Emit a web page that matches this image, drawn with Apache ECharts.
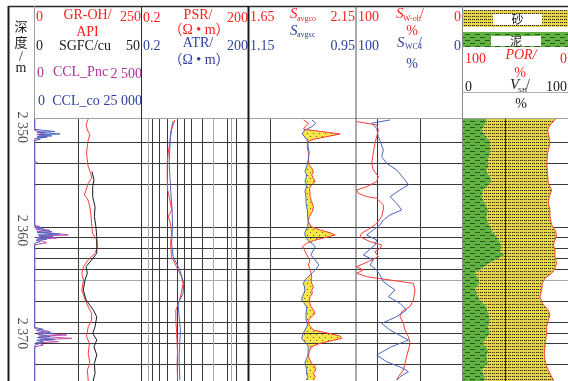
<!DOCTYPE html>
<html><head><meta charset="utf-8">
<script src="https://cdn.jsdelivr.net/npm/echarts/dist/echarts.min.js"></script>
<style>html,body{margin:0;padding:0;background:#fff}#c{width:568px;height:381px}</style>
</head><body><div id="c"></div>
<script>
// ---------------- DATA ----------------
const depthRange = [2349.2, 2374.6];
const depthTicks = [2350, 2360, 2370];
const depthTickLabels = ['2 350', '2 360', '2 370'];
const gridDepths = [2351.43, 2353.43, 2355.47, 2359.68, 2360.65, 2361.68, 2362.69, 2363.76, 2366.8, 2368.86, 2369.93, 2370.9, 2373.0];
const greyGridDepths = [2364.76];

// scales
const grScale = [0, 250], sgfcScale = [0, 50], cclPncScale = [0, 2500], cclCoScale = [0, 25000];
const resScale = [0.2, 200];
const savgcoScale = [1.65, 2.15], savgscScale = [0.95, 1.15];
const swScale = [0, 100], vshScale = [0, 100], porScale = [0, 100];

// track 1
const grDepth = [2349.2, 2349.29, 2349.78, 2350.26, 2350.74, 2351.23, 2351.88, 2352.52, 2353.17, 2353.82, 2354.46, 2354.95, 2355.43, 2356.08, 2356.57, 2356.89, 2357.53, 2358.34, 2359.31, 2360.28, 2360.93, 2361.58, 2362.22, 2362.87, 2363.52, 2364.16, 2364.81, 2365.78, 2366.75, 2367.40, 2368.04, 2368.69, 2369.34, 2370.31, 2370.95, 2371.92, 2372.89, 2373.54, 2374.51, 2374.6];
const grValue = [125, 125, 120, 123, 129, 125, 123, 121, 123, 125, 131, 133, 125, 120, 116, 123, 128, 131, 133, 135, 145, 147, 141, 125, 114, 110, 114, 110, 118, 125, 133, 133, 125, 121, 128, 125, 129, 123, 125, 125];
const sgfcDepth = [2354.3, 2354.46, 2355.11, 2355.76, 2356.73, 2357.70, 2358.67, 2359.64, 2360.61, 2361.58, 2362.22, 2362.87, 2363.52, 2364.16, 2364.81, 2365.78, 2366.75, 2367.72, 2368.37, 2369.34, 2369.98, 2370.63, 2371.28, 2372.08, 2372.89, 2373.86, 2374.51, 2374.6];
const sgfcValue = [26.8, 27.1, 27.7, 27.1, 27.1, 28.2, 27.9, 28.6, 29.0, 29.0, 29.0, 26.6, 24.0, 24.6, 23.5, 22.7, 24.0, 27.4, 29.0, 28.2, 27.1, 29.0, 27.7, 29.0, 27.9, 28.2, 27.4, 27.4];
const cclCoDepth = [2349.2, 2350.2, 2350.42, 2350.48, 2350.65, 2350.72, 2350.84, 2350.9, 2350.97, 2351.07, 2351.17, 2351.3, 2353.3, 2353.43, 2353.55, 2359.6, 2359.8, 2359.9, 2360.12, 2360.22, 2360.35, 2360.45, 2360.61, 2360.7, 2360.87, 2360.95, 2361.09, 2361.25, 2369.4, 2369.59, 2369.7, 2369.98, 2370.06, 2370.31, 2370.4, 2370.56, 2370.66, 2370.79, 2370.9, 2371.02, 2371.15, 2374.6];
const cclCoValue = [0, 0, 4700, 500, 5900, 800, 4000, 600, 2800, 300, 1300, 0, 0, 600, 0, 0, 2000, 300, 4000, 600, 5900, 800, 4300, 500, 2800, 300, 1300, 0, 0, 2000, 400, 4350, 700, 3600, 600, 4700, 500, 2000, 300, 850, 0, 0];
const cclPncDepth = [2349.2, 2350.3, 2350.55, 2350.7, 2350.9, 2351.1, 2359.5, 2359.65, 2359.75, 2360.0, 2360.1, 2360.44, 2360.55, 2360.75, 2360.85, 2361.2, 2361.4, 2369.5, 2369.82, 2369.95, 2370.14, 2370.25, 2370.47, 2370.6, 2370.79, 2370.9, 2371.11, 2371.3, 2374.6];
const cclPncValue = [0, 0, 250, 50, 300, 0, 0, 124, 0, 357, 50, 785, 100, 514, 60, 280, 0, 0, 357, 60, 748, 100, 865, 120, 551, 80, 200, 0, 0];

// track 2
const psrDepth = [2349.29, 2350.26, 2351.39, 2352.52, 2353.49, 2354.79, 2356.08, 2357.05, 2358.02, 2358.67, 2359.31, 2360.28, 2361.25, 2362.55, 2363.52, 2364.49, 2365.13, 2365.94, 2366.75, 2367.72, 2368.69, 2369.66, 2370.95, 2371.92, 2372.89, 2374.51];
const psrValue = [1.71, 1.38, 1.24, 1.11, 1.04, 1.04, 1.07, 1.24, 1.38, 1.11, 1.29, 1.38, 1.29, 1.38, 1.90, 2.62, 2.91, 2.62, 2.35, 1.82, 1.82, 1.90, 1.98, 2.03, 1.98, 2.03];
const atrDepth = [2349.4, 2349.61, 2350.58, 2351.88, 2353.49, 2354.79, 2356.40, 2358.02, 2359.64, 2361.25, 2362.55, 2363.84, 2365.13, 2366.10, 2367.07, 2368.36, 2369.66, 2370.95, 2372.24, 2374.51];
const atrValue = [1.53, 1.47, 1.29, 1.24, 1.18, 1.24, 1.32, 1.43, 1.47, 1.38, 1.53, 2.35, 3.05, 2.91, 2.11, 2.25, 2.46, 2.35, 2.25, 2.35];
const resGridDark = [0.4, 0.6, 1, 2, 3, 5, 10, 50, 90];
const resGridGrey = [0.3, 20, 65];

// track 3
const savgDepth = [2349.29, 2349.61, 2349.94, 2350.20, 2350.42, 2350.65, 2350.91, 2351.17, 2351.39, 2351.88,
  2352.52, 2353.17, 2353.65, 2353.98, 2354.30, 2354.62, 2354.95, 2355.27, 2355.59, 2355.92,
  2356.24, 2356.73, 2357.21, 2357.70, 2358.18, 2358.67, 2359.15, 2359.64, 2359.96, 2360.22,
  2360.44, 2360.70, 2360.99, 2361.25, 2361.58, 2361.90, 2362.38, 2362.87, 2363.35, 2363.84,
  2364.16, 2364.49, 2364.81, 2365.13, 2365.46, 2365.78, 2366.10, 2366.42, 2366.75, 2367.07,
  2367.39, 2367.72, 2368.04, 2368.36, 2368.69, 2369.17, 2369.66, 2369.98, 2370.24, 2370.47,
  2370.69, 2370.95, 2371.27, 2371.76, 2372.24, 2372.57, 2372.89, 2373.21, 2373.54, 2373.86,
  2374.18, 2374.51];
const savgcoValue = [1.906, 1.929, 1.913, 1.906, 1.991, 2.076, 2.014, 1.952, 1.926, 1.923,
  1.929, 1.929, 1.932, 1.944, 1.952, 1.944, 1.952, 1.960, 1.944, 1.933,
  1.936, 1.936, 1.944, 1.952, 1.947, 1.932, 1.929, 1.941, 1.983, 2.029,
  2.053, 2.006, 1.952, 1.921, 1.901, 1.910, 1.921, 1.936, 1.929, 1.936,
  1.941, 1.944, 1.941, 1.944, 1.952, 1.944, 1.947, 1.936, 1.933, 1.936,
  1.941, 1.952, 1.960, 1.944, 1.929, 1.932, 1.952, 2.022, 2.076, 2.084,
  2.037, 1.983, 1.944, 1.932, 1.929, 1.936, 1.944, 1.960, 1.963, 1.952,
  1.960, 1.952];
const savgscValue = [1.032, 1.025, 1.032, 1.042, 1.048, 1.050, 1.046, 1.042, 1.040, 1.039,
  1.037, 1.039, 1.041, 1.043, 1.045, 1.042, 1.043, 1.045, 1.042, 1.043,
  1.045, 1.043, 1.043, 1.042, 1.040, 1.040, 1.039, 1.040, 1.043, 1.045,
  1.045, 1.043, 1.039, 1.032, 1.026, 1.029, 1.034, 1.026, 1.019, 1.026,
  1.032, 1.039, 1.045, 1.048, 1.046, 1.045, 1.047, 1.050, 1.051, 1.046,
  1.042, 1.042, 1.043, 1.043, 1.043, 1.040, 1.045, 1.048, 1.050, 1.051,
  1.048, 1.042, 1.039, 1.039, 1.040, 1.043, 1.045, 1.043, 1.042, 1.042,
  1.040, 1.042];
const savgGrid = [1.75];

// track 4
const swohDepth = [2349.45, 2349.78, 2350.26, 2350.91, 2351.55, 2352.52, 2353.49, 2354.14, 2354.79, 2355.27, 2355.76, 2356.08, 2356.40, 2356.73, 2356.89, 2357.53, 2358.02, 2358.67, 2359.31, 2359.80, 2360.28, 2360.61, 2361.09, 2361.41, 2361.74, 2362.06, 2362.55, 2363.03, 2363.52, 2363.84, 2364.16, 2364.49, 2364.81, 2365.13, 2365.78, 2366.75, 2367.39, 2367.88, 2368.36, 2369.01, 2369.66, 2370.30, 2370.95, 2371.60, 2372.24, 2372.89, 2373.54, 2374.18, 2374.51];
const swohValue = [99.4, 80.5, 78.9, 80.5, 82.1, 83.7, 85.2, 83.7, 78.9, 80.5, 89.9, 99.4, 97.8, 89.9, 80.5, 74.2, 74.2, 75.8, 80.5, 86.8, 94.7, 96.2, 86.8, 75.8, 77.4, 82.1, 78.9, 88.4, 99.4, 93.1, 99.4, 89.9, 67.9, 45.9, 44.3, 45.9, 49.0, 56.9, 58.5, 55.3, 53.8, 50.6, 49.0, 50.6, 52.2, 53.8, 55.3, 60.0, 61.6];
const swc4Depth = [2349.29, 2349.61, 2350.10, 2350.91, 2352.20, 2352.85, 2353.49, 2354.14, 2355.11, 2355.59, 2356.08, 2356.73, 2357.37, 2358.02, 2358.50, 2358.99, 2359.47, 2359.96, 2360.44, 2360.93, 2361.41, 2362.38, 2362.87, 2363.35, 2363.84, 2364.32, 2364.97, 2365.78, 2366.42, 2367.07, 2367.72, 2368.36, 2369.01, 2369.66, 2370.63, 2371.27, 2372.08, 2372.73, 2373.38, 2373.70, 2374.18, 2374.51];
const swc4Value = [67.9, 85.2, 80.5, 78.9, 74.2, 75.8, 71.1, 61.6, 53.8, 50.6, 58.5, 67.9, 61.6, 56.9, 67.9, 74.2, 77.4, 83.7, 89.9, 80.5, 82.1, 93.1, 83.7, 86.8, 80.5, 77.4, 74.2, 63.2, 69.5, 58.5, 52.2, 61.6, 75.8, 67.9, 50.6, 66.3, 80.5, 71.1, 55.3, 50.6, 58.5, 61.6];
const swGrid = [80, 40];

// track 5
const vshDepth = [2349.2, 2349.29, 2349.78, 2350.26, 2350.74, 2351.39, 2351.88, 2352.52, 2353.17, 2353.82, 2354.30, 2354.79, 2355.27, 2355.76, 2356.08, 2356.73, 2357.37, 2358.02, 2358.67, 2359.31, 2359.96, 2360.61, 2361.09, 2361.58, 2362.06, 2362.38, 2362.87, 2363.35, 2363.84, 2364.16, 2364.65, 2365.13, 2365.62, 2366.10, 2366.75, 2367.39, 2368.04, 2368.69, 2369.33, 2369.98, 2370.63, 2370.95, 2371.60, 2372.24, 2372.89, 2373.54, 2374.18, 2374.6];
const vshValue = [23.3, 23.3, 21.7, 18.6, 21.7, 26.4, 26.4, 26.4, 24.8, 24.8, 23.3, 26.4, 28.0, 23.3, 20.1, 18.6, 21.7, 24.8, 23.3, 24.8, 28.0, 32.7, 35.8, 37.4, 35.8, 40.6, 31.1, 23.3, 17.0, 12.3, 15.4, 17.0, 12.3, 14.0, 17.0, 23.3, 24.8, 26.4, 24.8, 26.4, 21.7, 20.1, 24.8, 23.3, 24.8, 18.6, 21.7, 21.1];
const porDepth = [2349.2, 2349.29, 2349.78, 2350.26, 2350.91, 2351.55, 2352.52, 2353.49, 2354.46, 2355.43, 2356.08, 2356.73, 2357.37, 2358.02, 2358.67, 2359.47, 2359.96, 2360.44, 2360.93, 2361.41, 2361.90, 2362.55, 2363.19, 2363.68, 2364.16, 2364.65, 2365.13, 2365.78, 2366.42, 2367.07, 2367.72, 2368.20, 2368.69, 2369.33, 2369.98, 2370.63, 2371.27, 2371.92, 2372.57, 2373.21, 2373.86, 2374.51, 2374.6];
const porValue = [11.5, 12.3, 17.0, 19.2, 17.9, 17.0, 19.2, 20.1, 19.2, 18.6, 15.4, 17.6, 18.6, 17.0, 17.0, 15.4, 12.3, 10.7, 12.3, 13.8, 12.3, 12.3, 10.7, 12.3, 15.4, 21.7, 24.2, 24.8, 26.4, 24.2, 18.6, 17.0, 18.6, 20.1, 20.1, 21.1, 21.7, 22.3, 21.7, 20.1, 17.0, 13.8, 13.5];
const vshGrid = [41];

// ---------------- STYLE ----------------
const RED = '#ff2020', BLUE = '#2f3f9f', MAG = '#b0309a', BLK = '#1a1a1a';
const LRED = '#ff3a3a', LBLUE = '#4a66c2', LMAG = '#c04ab0';
const F = '"Liberation Serif","Noto Sans CJK SC",serif';
const FC = '"Noto Sans CJK SC",sans-serif';
const GRID_DARK = '#3a3a3a', GRID_GREY = '#a8a8a8';

function pattern(w, h, bg, fn) {
  const c = document.createElement('canvas'); c.width = w; c.height = h;
  const g = c.getContext('2d'); g.fillStyle = bg; g.fillRect(0, 0, w, h); fn(g);
  return { image: c, repeat: 'repeat' };
}
const sandLog = pattern(6, 6, '#f7e64a', g => { g.fillStyle = '#6a5e20'; g.fillRect(1, 1, 1, 1); g.fillRect(4, 4, 1, 1); });
const sandLith = pattern(4, 3, '#e4d646', g => { g.fillStyle = '#3a3410'; g.fillRect(0, 1, 1, 1); g.fillRect(2, 1, 1, 1); g.fillStyle = '#9a8e2a'; g.fillRect(1, 1, 1, 1); });
const shale = pattern(10, 6, '#62b242', g => { g.fillStyle = '#2c5a1c'; g.fillRect(0, 1, 5, 1); g.fillRect(5, 4, 5, 1); });

const chart = echarts.init(document.getElementById('c'), null, { renderer: 'canvas' });

const TOP = 119, H = 262;
const grids = [
  { left: 8, top: TOP, width: 26.7, height: H },
  { left: 34.7, top: TOP, width: 107, height: H },
  { left: 141.7, top: TOP, width: 106.8, height: H },
  { left: 248.5, top: TOP, width: 107.5, height: H },
  { left: 356, top: TOP, width: 106, height: H },
  { left: 462, top: TOP, width: 106, height: H }
];
function xa(g, s, extra) { return Object.assign({ gridIndex: g, type: 'value', min: s[0], max: s[1], show: false }, extra || {}); }
const xAxes = [
  xa(0, [0, 1]),
  xa(1, grScale), xa(1, sgfcScale), xa(1, cclPncScale), xa(1, cclCoScale),
  xa(2, resScale, { type: 'log', logBase: 10 }),
  xa(3, savgcoScale), xa(3, savgscScale, { inverse: true }),
  xa(4, swScale, { inverse: true }),
  xa(5, vshScale), xa(5, porScale, { inverse: true })
];
const yAxes = grids.map((g, i) => ({ gridIndex: i, type: 'value', min: depthRange[0], max: depthRange[1], inverse: true, show: false }));

function curve(xi, yi, depths, values, color, z) {
  return { type: 'line', xAxisIndex: xi, yAxisIndex: yi, data: depths.map((d, i) => [values[i], d]),
    showSymbol: false, symbol: 'none', lineStyle: { color: color, width: 1 }, z: z || 4, silent: true };
}
function hLines(xi, yi, refX, depths, color, z) {
  return { type: 'custom', xAxisIndex: xi, yAxisIndex: yi, z: z, silent: true, encode: { x: 0, y: 1 },
    data: depths.map(d => [refX, d]),
    renderItem: function (params, api) {
      const p = api.coord([api.value(0), api.value(1)]); const cs = params.coordSys;
      const y = Math.round(p[1]) + 0.5;
      return { type: 'line', shape: { x1: cs.x, y1: y, x2: cs.x + cs.width, y2: y }, style: { stroke: color, lineWidth: 1 } };
    } };
}
function vLines(xi, yi, values, color, z) {
  return { type: 'custom', xAxisIndex: xi, yAxisIndex: yi, z: z, silent: true, encode: { x: 0, y: 1 },
    data: values.map(v => [v, depthRange[0] + 1]),
    renderItem: function (params, api) {
      const p = api.coord([api.value(0), api.value(1)]); const cs = params.coordSys;
      const x = Math.round(p[0]) + 0.5;
      return { type: 'line', shape: { x1: x, y1: cs.y, x2: x, y2: cs.y + cs.height }, style: { stroke: color, lineWidth: 1 } };
    } };
}
function px(xi, yi, v, d) { return chart.convertToPixel({ xAxisIndex: xi, yAxisIndex: yi }, [v, d]); }

const savgFill = { type: 'custom', xAxisIndex: 6, yAxisIndex: 3, z: 2, silent: true, encode: { x: 0, y: 1 },
  data: [[savgcoValue[0], savgDepth[0]]],
  renderItem: function (params, api) {
    const right = [], left = [];
    for (let i = 0; i < savgDepth.length; i++) {
      const pr = api.coord([savgcoValue[i], savgDepth[i]]);
      const pb = px(7, 3, savgscValue[i], savgDepth[i]);
      right.push([Math.max(pr[0], pb[0]), pr[1]]);
      left.push([pb[0], pb[1]]);
    }
    return { type: 'polygon', shape: { points: right.concat(left.reverse()) }, style: { fill: sandLog } };
  } };
const shaleFill = { type: 'custom', xAxisIndex: 9, yAxisIndex: 5, z: 2, silent: true, encode: { x: 0, y: 1 },
  data: [[vshValue[0], vshDepth[0]]],
  renderItem: function (params, api) {
    const c = [], e = [];
    for (let i = 0; i < vshDepth.length; i++) { c.push(api.coord([vshValue[i], vshDepth[i]])); e.push(api.coord([0, vshDepth[i]])); }
    return { type: 'polygon', shape: { points: c.concat(e.reverse()) }, style: { fill: shale } };
  } };
const sandFill = { type: 'custom', xAxisIndex: 9, yAxisIndex: 5, z: 2, silent: true, encode: { x: 0, y: 1 },
  data: [[vshValue[0], vshDepth[0]]],
  renderItem: function (params, api) {
    const c = [], e = [];
    for (let i = 0; i < vshDepth.length; i++) c.push(api.coord([vshValue[i], vshDepth[i]]));
    for (let i = porDepth.length - 1; i >= 0; i--) e.push(px(10, 5, porValue[i], porDepth[i]));
    return { type: 'polygon', shape: { points: c.concat(e) }, style: { fill: sandLith } };
  } };

const series = [
  // depth labels
  { type: 'scatter', xAxisIndex: 0, yAxisIndex: 0, symbolSize: 1, itemStyle: { color: 'rgba(0,0,0,0)' }, silent: true,
    data: depthTicks.map((d, i) => ({ value: [0.5, d], label: { formatter: depthTickLabels[i] } })),
    label: { show: true, position: 'inside', rotate: -90, fontSize: 14, fontFamily: F, color: '#222', align: 'center', verticalAlign: 'middle' } },
  // track 1
  hLines(1, 1, 10, gridDepths, GRID_DARK, 1), hLines(1, 1, 10, greyGridDepths, GRID_GREY, 1),
  vLines(1, 1, [100], GRID_DARK, 1),
  curve(3, 1, cclPncDepth, cclPncValue, LMAG, 3),
  curve(4, 1, cclCoDepth, cclCoValue, LBLUE, 3),
  curve(1, 1, grDepth, grValue, LRED, 4),
  curve(2, 1, sgfcDepth, sgfcValue, BLK, 4),
  // track 2
  hLines(5, 2, 1, gridDepths, GRID_DARK, 1), hLines(5, 2, 1, greyGridDepths, GRID_GREY, 1),
  vLines(5, 2, resGridDark, GRID_DARK, 1), vLines(5, 2, resGridGrey, GRID_GREY, 1),
  curve(5, 2, psrDepth, psrValue, LRED, 4),
  curve(5, 2, atrDepth, atrValue, LBLUE, 4),
  // track 3
  savgFill,
  hLines(6, 3, 1.8, gridDepths, GRID_DARK, 3), hLines(6, 3, 1.8, greyGridDepths, GRID_GREY, 3),
  vLines(6, 3, savgGrid, GRID_DARK, 3),
  curve(6, 3, savgDepth, savgcoValue, LRED, 4),
  curve(7, 3, savgDepth, savgscValue, LBLUE, 4),
  // track 4
  hLines(8, 4, 50, gridDepths, GRID_DARK, 1), hLines(8, 4, 50, greyGridDepths, GRID_GREY, 1),
  vLines(8, 4, swGrid, GRID_DARK, 1),
  curve(8, 4, swohDepth, swohValue, LRED, 4),
  curve(8, 4, swc4Depth, swc4Value, LBLUE, 4),
  // track 5
  hLines(9, 5, 50, gridDepths, GRID_DARK, 1), hLines(9, 5, 50, greyGridDepths, GRID_GREY, 1),
  shaleFill, sandFill,
  curve(10, 5, porDepth, porValue, '#ff5030', 4),
  vLines(9, 5, vshGrid, '#2a2a2a', 5)
];

// ---------------- HEADER / FRAME (graphic) ----------------
function T(x, y, text, color, align, size, italic, fam) {
  return { type: 'text', x: x, y: y, z: 50, silent: true,
    style: { text: text, fill: color, font: (italic ? 'italic ' : '') + (size || 14) + 'px ' + (fam || F),
      textAlign: align || 'center', textVerticalAlign: 'middle', verticalAlign: 'middle' } };
}
function L(x1, y1, x2, y2, color, w) {
  return { type: 'line', z: 60, silent: true, shape: { x1: x1, y1: y1, x2: x2, y2: y2 }, style: { stroke: color, lineWidth: w || 1 } };
}
function R(x, y, w, h, fill) { return { type: 'rect', z: 40, silent: true, shape: { x: x, y: y, width: w, height: h }, style: { fill: fill } }; }

const graphics = [
  // frame
  L(8.5, 6, 8.5, 381, '#1a1a1a', 2), L(8, 6.5, 568, 6.5, '#2a2a2a', 1.5),
  L(34, 118.5, 568, 118.5, '#a0a0a0', 1), L(34.5, 6, 34.5, 119, '#a0a0a0', 1),
  L(141.5, 6, 141.5, 381, '#2a2a2a', 1), L(248.5, 6, 248.5, 381, '#1a1a1a', 2),
  L(356, 6, 356, 381, '#555', 1), L(462.5, 6, 462.5, 381, '#888', 1),
  L(462, 92.5, 568, 92.5, '#b0b0b0', 1),
  // depth header
  T(21, 26, '深', BLK, 'center', 13, false, FC), T(21, 42, '度', BLK, 'center', 13, false, FC),
  T(21, 57, '/', BLK, 'center', 14), T(21, 68, 'm', BLK, 'center', 14),
  // track 1
  T(36, 17, String(grScale[0]), RED, 'left'), T(87.5, 15, 'GR-OH/', RED), T(141, 17, String(grScale[1]), RED, 'right'), T(87.5, 32, 'API', RED),
  T(36, 46, String(sgfcScale[0]), BLK, 'left'), T(85, 46, 'SGFC/cu', BLK), T(140, 46, String(sgfcScale[1]), BLK, 'right'),
  T(37, 73, String(cclPncScale[0]), MAG, 'left'), T(80.5, 72, 'CCL_Pnc', MAG), T(142, 74, '2 500', MAG, 'right'),
  T(38, 101, String(cclCoScale[0]), BLUE, 'left'), T(76, 101, 'CCL_co', BLUE), T(142, 101, '25 000', BLUE, 'right'),
  // track 2
  T(143, 18, String(resScale[0]), RED, 'left'), T(198, 15, 'PSR/', RED), T(248, 18, String(resScale[1]), RED, 'right'), T(199, 30, '（Ω • m）', RED),
  T(143, 46, String(resScale[0]), BLUE, 'left'), T(198, 43, 'ATR/', BLUE), T(248, 46, String(resScale[1]), BLUE, 'right'), T(199, 60, '（Ω • m）', BLUE),
  // track 3
  T(250, 17.5, savgcoScale[0].toFixed(2), RED, 'left'), T(290, 14, 'S', RED, 'left', 15, true), T(297, 19, 'avgco', RED, 'left', 8), T(355, 17.5, savgcoScale[1].toFixed(2), RED, 'right'),
  T(290, 31, 'S', BLUE, 'left', 15, true), T(297, 35, 'avgsc', BLUE, 'left', 8),
  T(250, 46, savgscScale[1].toFixed(2), BLUE, 'left'), T(355, 46, savgscScale[0].toFixed(2), BLUE, 'right'),
  // track 4
  T(358, 17.5, String(swScale[1]), RED, 'left'), T(396, 14, 'S', RED, 'left', 15, true), T(403, 19, 'W-oh', RED, 'left', 8), T(420, 14, '/', RED, 'left'),
  T(461, 17.5, String(swScale[0]), RED, 'right'), T(412, 31, '%', RED),
  T(358, 46, String(swScale[1]), BLUE, 'left'), T(397, 43, 'S', BLUE, 'left', 15, true), T(405, 47, 'WC4', BLUE, 'left', 8), T(418, 43, '/', BLUE, 'left'),
  T(461, 46, String(swScale[0]), BLUE, 'right'), T(412, 64, '%', BLUE),
  // track 5
  R(463, 10, 105, 17, sandLith), R(493, 14, 49, 11, '#fff'), T(517.5, 19.5, '砂', BLK, 'center', 12, false, FC),
  R(463, 32, 105, 15, shale), R(491, 36, 50, 10, '#fff'), T(516, 41, '泥', BLK, 'center', 12, false, FC),
  T(465, 59, String(porScale[1]), RED, 'left'), T(521, 55, 'POR/', RED, 'center', 14, true), T(567, 59, String(porScale[0]), RED, 'right'), T(520, 73, '%', RED),
  T(465, 87, String(vshScale[0]), BLK, 'left'), T(510, 85, 'V', BLK, 'left', 15, true), T(518, 90, 'SH', BLK, 'left', 7), T(526, 85, '/', BLK, 'left'),
  T(567, 87, String(vshScale[1]), BLK, 'right'), T(521, 104, '%', BLK)
];

chart.setOption({
  animation: false,
  backgroundColor: '#fff',
  grid: grids.map(g => Object.assign({ containLabel: false, show: false }, g)),
  xAxis: xAxes,
  yAxis: yAxes,
  series: series,
  graphic: { elements: graphics }
});
</script></body></html>
